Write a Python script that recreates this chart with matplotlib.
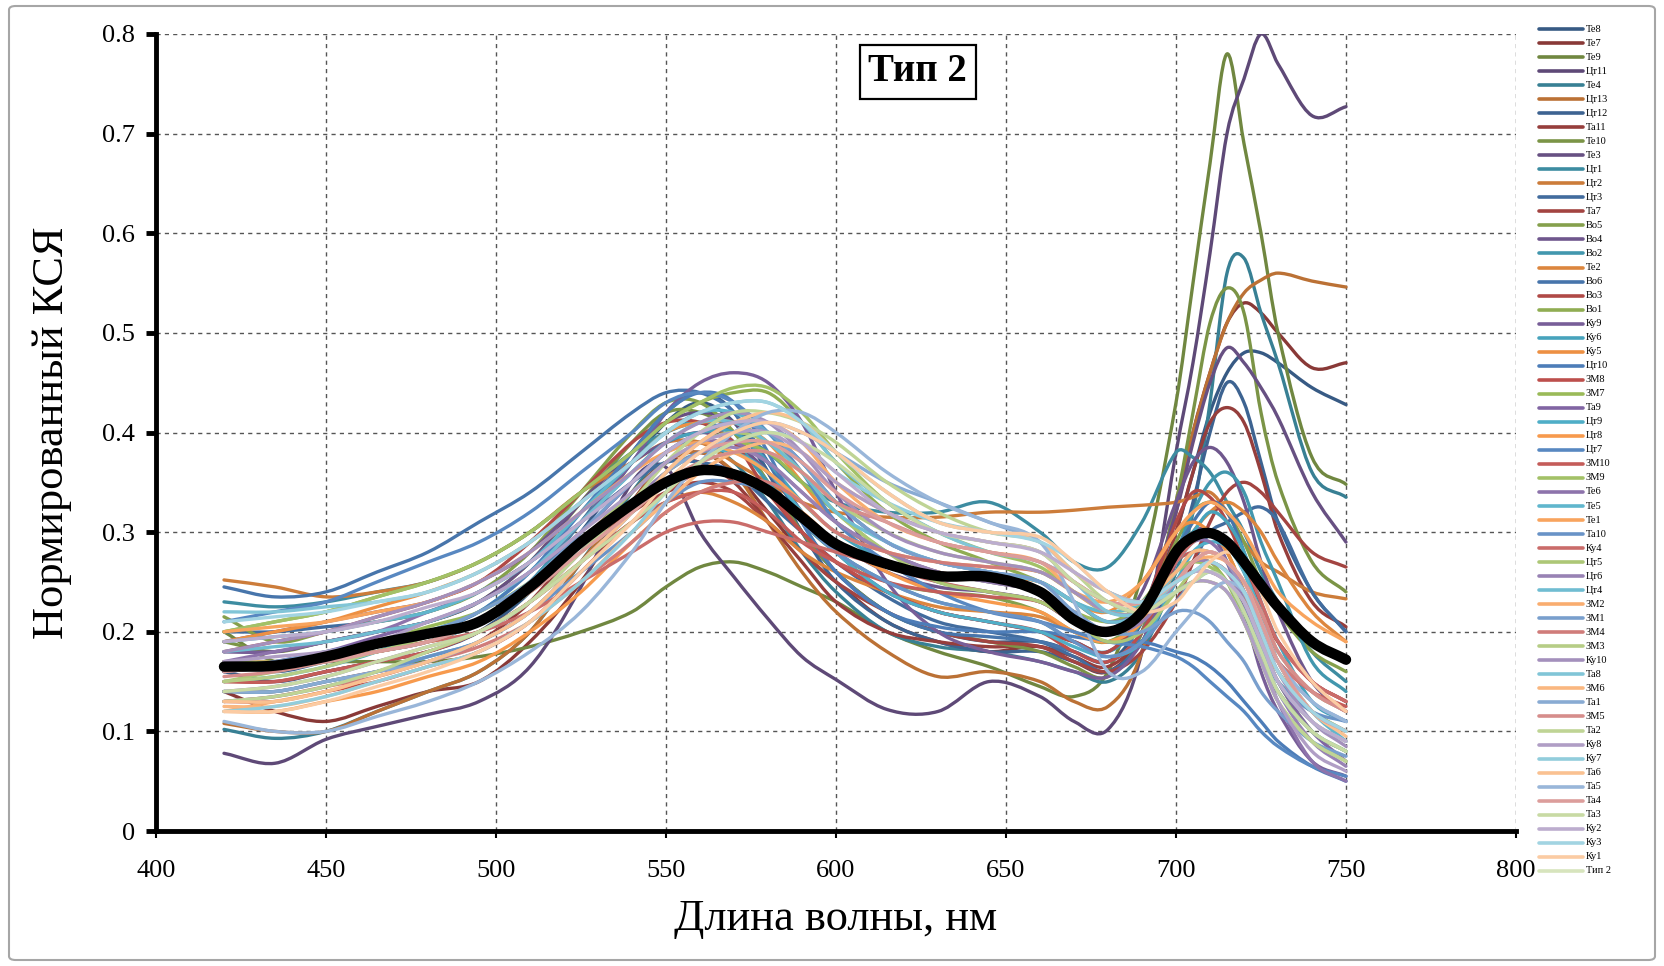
import matplotlib
matplotlib.use("Agg")
import matplotlib.pyplot as plt
from matplotlib.lines import Line2D
from matplotlib.patches import FancyBboxPatch, PathPatch
from matplotlib.path import Path
from matplotlib.ticker import FuncFormatter, MultipleLocator
import matplotlib.colors as mcolors

# ---------------- data ----------------
wavelength = [420, 435, 450, 465, 480, 495, 510, 525, 540, 550, 560, 570, 580, 590, 600,
              615, 630, 645, 660, 670, 680, 690, 700, 705, 710, 715, 720, 725, 730, 740, 750]

te8  = [.16,.15,.16,.17,.18, .20,.24,.30,.37,.41, .43,.41,.36,.30,.26, .22,.20,.19,.19,.18, .17,.21,.30,.36,.42, .46,.48,.48,.47,.445, .428]
te7  = [.14,.12,.11,.125,.14, .15,.19,.25,.33,.37, .38,.36,.32,.28,.25, .21,.19,.18,.185,.17, .16,.20,.32,.40,.46, .51,.53,.52,.50,.465, .47]
te9  = [.20,.17,.17,.17,.17, .175,.185,.20,.22,.245, .265,.27,.26,.245,.23, .20,.18,.165,.145,.135, .16,.26,.43,.55,.67, .78,.69,.60,.50,.375, .348]
ct11 = [.078,.068,.092,.105,.117, .13,.165,.245,.35,.365, .30,.255,.213,.175,.152, .122,.12,.15,.135,.11, .102,.18,.38,.47,.58, .70,.755,.80,.77,.718, .727]
te4  = [.102,.093,.10,.12,.14, .16,.20,.27,.34,.38, .39,.37,.33,.28,.24, .20,.185,.18,.17,.16, .15,.18,.26,.32,.43, .56,.575,.52,.47,.36, .335]
ct13 = [.108,.10,.10,.12,.14, .16,.20,.27,.33,.37, .38,.36,.31,.26,.22, .18,.155,.16,.15,.13, .125,.18,.33,.40,.46, .51,.54,.553,.56,.552, .546]
ct12 = [.17,.16,.17,.18,.19, .21,.25,.31,.38,.42, .44,.42,.36,.30,.25, .21,.19,.18,.18,.17, .16,.19,.27,.33,.40, .45,.43,.37,.31,.24, .20]
ta11 = [.14,.14,.15,.16,.17, .19,.23,.29,.34,.37, .37,.35,.31,.27,.23, .20,.19,.185,.185,.175, .165,.20,.30,.36,.41, .425,.41,.36,.30,.23, .205]
te10 = [.19,.18,.19,.20,.21, .23,.27,.33,.39,.42, .42,.40,.35,.30,.26, .22,.20,.19,.18,.165, .155,.20,.33,.42,.51, .545,.52,.42,.35,.27, .24]
te3  = [.18,.18,.19,.20,.21, .23,.27,.33,.38,.41, .42,.41,.37,.32,.28, .24,.22,.21,.20,.19, .18,.22,.32,.39,.45, .485,.47,.445,.415,.34, .29]
ct1  = [.23,.225,.23,.24,.25, .27,.30,.34,.38,.40, .41,.40,.38,.35,.33, .32,.32,.33,.30,.27, .265,.31,.38,.375,.36, .33,.30,.26,.23,.18, .15]
ct2  = [.252,.245,.235,.24,.25, .27,.30,.34,.37,.39, .39,.37,.35,.33,.32, .315,.315,.32,.32,.322, .325,.327,.33,.335,.34, .32,.29,.27,.26,.24, .233]
ct3  = [.20,.20,.205,.21,.22, .24,.27,.31,.35,.37, .37,.36,.33,.30,.27, .235,.21,.20,.19,.175, .16,.19,.25,.27,.30, .31,.32,.325,.31,.24, .20]
ta7  = [.15,.15,.16,.17,.18, .20,.23,.28,.32,.34, .35,.34,.31,.28,.25, .22,.20,.19,.185,.17, .16,.18,.23,.27,.31, .34,.35,.34,.32,.28, .265]
vo5  = [.215,.19,.20,.21,.22, .24,.28,.34,.40,.43, .43,.40,.35,.31,.28, .25,.24,.235,.22,.20, .19,.22,.29,.32,.33, .32,.29,.25,.22,.18, .16]
vo4  = [.19,.20,.21,.22,.23, .25,.28,.33,.37,.39, .40,.39,.36,.32,.29, .26,.245,.24,.23,.21, .20,.24,.33,.37,.385, .37,.33,.27,.22,.15, .12]
vo2  = [.16,.165,.17,.18,.19, .21,.25,.31,.37,.40, .41,.39,.35,.31,.28, .25,.23,.22,.21,.19, .18,.21,.28,.32,.35, .36,.34,.29,.25,.17, .14]
te2  = [.17,.17,.175,.18,.19, .20,.23,.27,.31,.33, .34,.33,.31,.28,.26, .24,.225,.22,.215,.20, .19,.21,.27,.30,.32, .33,.32,.30,.27,.22, .19]
vo6  = [.245,.235,.24,.26,.28, .31,.34,.38,.42,.44, .44,.42,.37,.31,.26, .22,.20,.195,.19,.18, .17,.20,.28,.31,.33, .32,.28,.22,.17,.12, .10]
vo3  = [.18,.19,.20,.215,.23, .25,.29,.34,.39,.41, .41,.39,.34,.30,.27, .24,.22,.21,.20,.19, .18,.22,.31,.34,.335, .31,.27,.22,.19,.15, .13]
vo1  = [.20,.21,.22,.235,.25, .27,.30,.34,.38,.41, .43,.44,.44,.41,.37, .32,.29,.27,.25,.23, .21,.23,.28,.30,.30, .28,.24,.19,.15,.10, .08]
ku9  = [.18,.18,.19,.20,.21, .23,.26,.31,.37,.42, .45,.46,.45,.41,.34, .25,.20,.18,.17,.16, .155,.19,.27,.30,.30, .27,.22,.16,.12,.07, .055]
ku6  = [.15,.155,.165,.18,.20, .22,.26,.31,.36,.39, .40,.40,.37,.33,.30, .27,.25,.24,.23,.21, .20,.22,.28,.30,.32, .31,.28,.23,.19,.13, .11]
ku5  = [.19,.20,.21,.225,.24, .26,.29,.33,.37,.40, .41,.41,.39,.35,.31, .28,.26,.255,.25,.23, .22,.25,.30,.31,.30, .28,.24,.19,.15,.11, .09]
ct10 = [.16,.165,.175,.19,.20, .22,.26,.32,.38,.42, .44,.43,.38,.31,.26, .22,.205,.20,.20,.195, .19,.19,.18,.175,.165, .15,.13,.11,.09,.065, .05]
zm8  = [.13,.13,.14,.15,.165, .18,.21,.26,.31,.34, .36,.36,.34,.30,.27, .24,.22,.21,.20,.18, .17,.20,.27,.29,.30, .29,.26,.22,.19,.15, .13]
zm7  = [.17,.17,.18,.19,.205, .22,.25,.29,.33,.36, .38,.39,.38,.35,.32, .28,.26,.25,.24,.22, .21,.22,.26,.27,.27, .25,.22,.18,.15,.12, .10]
ta9  = [.16,.17,.18,.195,.21, .23,.26,.30,.35,.38, .40,.41,.40,.37,.33, .29,.27,.26,.25,.23, .21,.22,.25,.27,.27, .26,.23,.19,.15,.10, .07]
ct9  = [.14,.14,.15,.16,.175, .19,.22,.27,.32,.36, .38,.38,.36,.32,.28, .24,.22,.21,.20,.185, .175,.19,.25,.28,.29, .285,.26,.22,.18,.14, .12]
ct8  = [.12,.12,.13,.14,.155, .17,.20,.24,.29,.32, .34,.35,.34,.32,.29, .26,.24,.23,.22,.20, .19,.21,.26,.27,.27, .26,.23,.19,.16,.12, .10]
ct7  = [.21,.22,.23,.25,.27, .29,.32,.36,.40,.43, .44,.43,.40,.36,.31, .27,.24,.22,.21,.20, .19,.185,.175,.165,.15, .135,.12,.10,.085,.065, .055]
zm10 = [.15,.15,.16,.17,.18, .20,.23,.27,.31,.33, .34,.34,.32,.29,.27, .25,.24,.235,.23,.21, .20,.22,.27,.28,.28, .27,.24,.20,.17,.14, .125]
zm9  = [.20,.21,.22,.235,.25, .27,.30,.34,.38,.41, .43,.445,.445,.42,.38, .33,.30,.28,.265,.24, .22,.23,.26,.27,.265, .25,.21,.17,.14,.10, .08]
te6  = [.17,.18,.19,.20,.22, .24,.27,.31,.35,.38, .39,.39,.37,.34,.31, .28,.26,.25,.24,.22, .20,.22,.27,.29,.29, .27,.23,.18,.13,.07, .05]
te5  = [.19,.195,.20,.21,.22, .24,.27,.32,.37,.40, .42,.42,.40,.37,.33, .29,.27,.26,.25,.23, .22,.23,.27,.29,.30, .29,.26,.21,.17,.12, .09]
te1  = [.20,.205,.21,.22,.23, .25,.28,.32,.36,.38, .39,.38,.36,.33,.30, .28,.27,.265,.26,.24, .23,.25,.30,.32,.33, .32,.30,.27,.24,.21, .19]
ta10 = [.13,.135,.145,.16,.175, .19,.22,.26,.30,.33, .35,.35,.34,.31,.28, .25,.23,.22,.21,.19, .175,.19,.23,.25,.26, .25,.22,.18,.15,.12, .11]
ku4  = [.16,.165,.17,.18,.19, .20,.22,.25,.28,.30, .31,.31,.30,.29,.28, .265,.25,.24,.23,.21, .20,.22,.27,.29,.30, .29,.27,.23,.19,.15, .13]
ct5  = [.15,.16,.17,.18,.195, .21,.24,.29,.34,.37, .39,.40,.39,.36,.32, .28,.25,.24,.23,.21, .19,.20,.24,.26,.26, .25,.22,.18,.14,.10, .08]
ct6  = [.14,.145,.155,.17,.185, .20,.23,.28,.33,.36, .38,.385,.37,.34,.31, .28,.26,.25,.24,.22, .20,.21,.25,.27,.27, .26,.23,.18,.14,.09, .065]
ct4  = [.18,.185,.19,.20,.21, .23,.26,.31,.36,.39, .41,.41,.39,.36,.32, .29,.27,.26,.25,.23, .21,.22,.26,.28,.28, .27,.24,.20,.16,.12, .10]
zm2  = [.12,.13,.14,.155,.17, .19,.22,.27,.32,.36, .39,.41,.41,.39,.35, .31,.29,.28,.27,.24, .22,.22,.25,.27,.275, .27,.25,.22,.18,.14, .12]
zm1  = [.165,.17,.18,.19,.20, .22,.25,.30,.35,.38, .40,.41,.40,.37,.33, .29,.27,.26,.25,.22, .20,.20,.22,.22,.21, .19,.17,.14,.12,.09, .075]
zm4  = [.13,.135,.145,.155,.17, .185,.21,.25,.29,.32, .34,.35,.35,.33,.30, .28,.27,.265,.26,.24, .22,.22,.25,.26,.26, .25,.23,.20,.17,.14, .12]
zm3  = [.15,.155,.165,.18,.19, .21,.24,.28,.32,.35, .37,.38,.38,.36,.33, .30,.28,.27,.26,.24, .22,.22,.24,.25,.25, .24,.21,.17,.13,.09, .07]
ku10 = [.18,.19,.20,.215,.23, .25,.28,.32,.36,.39, .41,.42,.41,.38,.34, .30,.28,.27,.26,.24, .22,.22,.25,.27,.28, .27,.24,.20,.16,.11, .085]
ta8  = [.22,.22,.225,.23,.24, .26,.29,.33,.37,.40, .42,.43,.43,.41,.37, .33,.30,.28,.27,.25, .22,.22,.25,.26,.26, .25,.22,.18,.14,.10, .08]
zm6  = [.125,.125,.135,.15,.165, .18,.21,.25,.30,.33, .36,.38,.39,.38,.35, .32,.30,.29,.28,.25, .23,.23,.26,.28,.28, .27,.25,.21,.17,.12, .10]
ta1  = [.14,.14,.15,.16,.17, .19,.22,.27,.32,.36, .38,.40,.41,.40,.38, .35,.33,.31,.29,.26, .24,.23,.25,.26,.27, .26,.24,.21,.17,.13, .11]
zm5  = [.155,.16,.17,.18,.19, .21,.24,.28,.32,.35, .37,.38,.38,.36,.33, .31,.29,.28,.27,.25, .23,.23,.25,.27,.28, .27,.25,.22,.18,.14, .12]
ta2  = [.13,.135,.145,.16,.18, .20,.23,.28,.33,.37, .40,.42,.42,.41,.39, .35,.32,.30,.29,.26, .23,.22,.24,.25,.25, .24,.21,.17,.13,.09, .07]
ku8  = [.17,.175,.18,.19,.21, .23,.26,.30,.34,.37, .39,.40,.40,.38,.35, .32,.30,.29,.28,.25, .23,.22,.24,.25,.25, .24,.21,.17,.13,.08, .06]
ku7  = [.12,.125,.135,.15,.165, .18,.21,.25,.30,.34, .37,.39,.40,.39,.36, .33,.31,.30,.29,.26, .24,.23,.24,.25,.26, .25,.23,.19,.15,.11, .09]
ta6  = [.13,.13,.14,.155,.17, .19,.22,.27,.32,.36, .39,.41,.42,.41,.38, .34,.31,.30,.29,.26, .24,.23,.25,.27,.28, .27,.25,.21,.17,.12, .095]
ta5  = [.11,.10,.10,.115,.13, .15,.18,.22,.28,.33, .37,.40,.42,.42,.40, .36,.33,.31,.29,.23, .16,.16,.20,.22,.24, .25,.24,.21,.17,.13, .11]
ta4  = [.16,.165,.17,.18,.19, .21,.24,.28,.32,.35, .38,.39,.39,.37,.34, .31,.29,.28,.27,.25, .23,.23,.25,.27,.28, .27,.25,.21,.17,.12, .10]
ta3  = [.14,.145,.155,.17,.185, .20,.23,.27,.31,.34, .37,.39,.40,.39,.37, .33,.30,.29,.28,.25, .23,.22,.24,.25,.26, .25,.22,.18,.14,.10, .08]
ku2  = [.19,.195,.20,.21,.225, .24,.27,.31,.35,.38, .40,.41,.41,.39,.36, .32,.30,.29,.28,.26, .24,.23,.25,.26,.26, .25,.23,.19,.15,.11, .09]
ku3  = [.21,.215,.22,.23,.24, .26,.29,.33,.37,.40, .42,.43,.43,.41,.38, .34,.31,.30,.29,.27, .24,.23,.25,.26,.27, .26,.24,.20,.16,.12, .10]
ku1  = [.12,.12,.13,.145,.16, .18,.21,.26,.31,.35, .38,.40,.41,.40,.38, .34,.31,.30,.295,.27, .24,.22,.23,.25,.27, .28,.27,.24,.20,.15, .12]

tip2 = [.165,.166,.175,.188,.198, .21,.245,.29,.328,.35, .362,.358,.342,.315,.288, .268,.256,.255,.24,.212, .20,.22,.28,.295,.299, .29,.27,.247,.225,.19, .172]

series = [te8, te7, te9, ct11, te4, ct13, ct12, ta11, te10, te3, ct1, ct2, ct3, ta7,
          vo5, vo4, vo2, te2, vo6, vo3, vo1, ku9, ku6, ku5, ct10, zm8, zm7, ta9,
          ct9, ct8, ct7, zm10, zm9, te6, te5, te1, ta10, ku4, ct5, ct6, ct4, zm2,
          zm1, zm4, zm3, ku10, ta8, zm6, ta1, zm5, ta2, ku8, ku7, ta6, ta5, ta4,
          ta3, ku2, ku3, ku1]

labels = ["Те8", "Те7", "Те9", "Цт11", "Те4", "Цт13", "Цт12", "Та11", "Те10", "Те3",
          "Цт1", "Цт2", "Цт3", "Та7", "Во5", "Во4", "Во2", "Те2", "Во6", "Во3",
          "Во1", "Ку9", "Ку6", "Ку5", "Цт10", "ЗМ8", "ЗМ7", "Та9", "Цт9", "Цт8",
          "Цт7", "ЗМ10", "ЗМ9", "Те6", "Те5", "Те1", "Та10", "Ку4", "Цт5", "Цт6",
          "Цт4", "ЗМ2", "ЗМ1", "ЗМ4", "ЗМ3", "Ку10", "Та8", "ЗМ6", "Та1", "ЗМ5",
          "Та2", "Ку8", "Ку7", "Та6", "Та5", "Та4", "Та3", "Ку2", "Ку3", "Ку1"]
mean_label = "Тип 2"

for s in series + [tip2]:
    assert len(s) == len(wavelength), len(s)

# ---------------- style ----------------
plt.rcParams['font.family'] = ['Liberation Serif', 'DejaVu Serif']

base = ['#4F81BD', '#C0504D', '#9BBB59', '#8064A2', '#4BACC6', '#F79646']
n = len(series)
colors = []
for i in range(n):
    r, g, b = mcolors.to_rgb(base[i % 6])
    t = i / (n - 1)
    if t < 0.45:
        f = 0.70 + 0.30 * (t / 0.45)
        c = (r * f, g * f, b * f)
    else:
        w = 0.50 * (t - 0.45) / 0.55
        c = (r + (1 - r) * w, g + (1 - g) * w, b + (1 - b) * w)
    colors.append(c)


def smoothed_path(x, y):
    """Excel-style smoothed line: cubic Bezier segments through the data points."""
    k = len(x)
    m = []
    for i in range(k):
        if i == 0:
            m.append((y[1] - y[0]) / (x[1] - x[0]))
        elif i == k - 1:
            m.append((y[-1] - y[-2]) / (x[-1] - x[-2]))
        else:
            m.append((y[i + 1] - y[i - 1]) / (x[i + 1] - x[i - 1]))
    verts = [(x[0], y[0])]
    codes = [Path.MOVETO]
    for i in range(k - 1):
        h = x[i + 1] - x[i]
        verts += [(x[i] + h / 3, y[i] + m[i] * h / 3),
                  (x[i + 1] - h / 3, y[i + 1] - m[i + 1] * h / 3),
                  (x[i + 1], y[i + 1])]
        codes += [Path.CURVE4] * 3
    return Path(verts, codes)


W, H = 1664, 966
fig = plt.figure(figsize=(W / 100, H / 100), dpi=100)

# outer frame
fig.add_artist(FancyBboxPatch((9 / W, 6 / H), (1655 - 9) / W, (960 - 6) / H,
                              boxstyle='round,pad=0,rounding_size=0.004',
                              transform=fig.transFigure, fill=False,
                              ec='#a6a6a6', lw=1.5))

ax = fig.add_axes([156 / W, 1 - 831 / H, (1516 - 156) / W, (831 - 34) / H])

for vals, col in zip(series, colors):
    ax.add_patch(PathPatch(smoothed_path(wavelength, vals), fill=False, ec=col, lw=2.4,
                           capstyle='round', joinstyle='round', zorder=3))
ax.add_patch(PathPatch(smoothed_path(wavelength, tip2), fill=False, ec='black', lw=7.5,
                       capstyle='round', joinstyle='round', zorder=4))

ax.set_xlim(400, 800)
ax.set_ylim(0, 0.8)
ax.xaxis.set_major_locator(MultipleLocator(50))
ax.yaxis.set_major_locator(MultipleLocator(0.1))
ax.yaxis.set_major_formatter(FuncFormatter(lambda v, p: '0' if abs(v) < 1e-9 else f'{v:.1f}'))

ax.grid(True, linestyle=(0, (3, 3)), color='#555555', lw=1.0, zorder=0)
ax.set_axisbelow(True)
for side in ('top', 'right'):
    ax.spines[side].set_visible(False)
ax.spines['left'].set_linewidth(3.5)
ax.spines['bottom'].set_linewidth(3.5)

ax.tick_params(axis='y', direction='out', length=7, width=3.5, labelsize=19, pad=8)
ax.tick_params(axis='x', direction='out', length=5, width=1.5, labelsize=19, pad=16)

ax.set_xlabel('Длина волны, нм', fontsize=32, labelpad=12)
ax.set_ylabel('Нормированный КСЯ', fontsize=32, labelpad=22)

ax.text(624, 0.762, 'Тип 2', fontsize=28, fontweight='bold', ha='center', va='center',
        zorder=6, bbox=dict(boxstyle='square,pad=0.22', fc='white', ec='black', lw=1.6))

# legend (manual, right side)
y0, dy = 29, 14.03
x_line0, x_line1, x_text = 1539, 1583, 1586
for i, (lab, col) in enumerate(list(zip(labels, colors)) + [(mean_label, '#d7e4bd')]):
    yy = 1 - (y0 + i * dy) / H
    fig.add_artist(Line2D([x_line0 / W, x_line1 / W], [yy, yy], transform=fig.transFigure,
                          color=col, lw=2.6, solid_capstyle='round'))
    fig.text(x_text / W, yy, lab, fontsize=7.5, ha='left', va='center')

fig.savefig('out.png', dpi=100)
